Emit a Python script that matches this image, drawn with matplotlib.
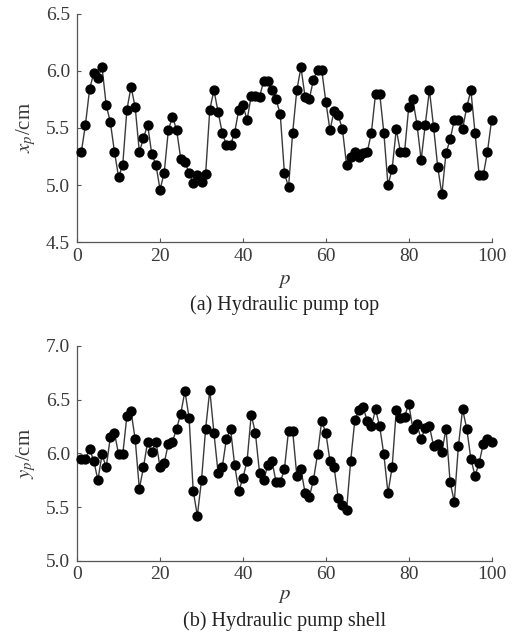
import numpy as np
import matplotlib
matplotlib.use('Agg')
import matplotlib.pyplot as plt
from matplotlib.ticker import FormatStrFormatter

plt.rcParams['font.family'] = 'Liberation Serif'
plt.rcParams['mathtext.fontset'] = 'stix'

p = np.arange(1, 101)

# (a) hydraulic pump top, x_p in cm
x_top = [5.29, 5.53, 5.84, 5.98, 5.94, 6.03, 5.70, 5.55, 5.29, 5.07,
         5.18, 5.66, 5.86, 5.68, 5.29, 5.41, 5.53, 5.27, 5.18, 4.96,
         5.11, 5.48, 5.60, 5.48, 5.23, 5.20, 5.11, 5.02, 5.09, 5.03,
         5.10, 5.66, 5.83, 5.64, 5.46, 5.35, 5.35, 5.46, 5.66, 5.70,
         5.57, 5.78, 5.78, 5.77, 5.91, 5.91, 5.83, 5.75, 5.62, 5.11,
         4.98, 5.46, 5.83, 6.03, 5.77, 5.75, 5.92, 6.01, 6.01, 5.73,
         5.48, 5.65, 5.61, 5.49, 5.18, 5.25, 5.29, 5.25, 5.28, 5.29,
         5.46, 5.80, 5.80, 5.46, 5.00, 5.14, 5.49, 5.29, 5.29, 5.68,
         5.75, 5.53, 5.22, 5.53, 5.83, 5.51, 5.16, 4.92, 5.28, 5.40,
         5.57, 5.57, 5.49, 5.68, 5.83, 5.46, 5.09, 5.09, 5.29, 5.57]

# (b) hydraulic pump shell, y_p in cm
y_shell = [5.95, 5.95, 6.04, 5.93, 5.75, 5.99, 5.87, 6.15, 6.19, 5.99,
           5.99, 6.35, 6.39, 6.13, 5.67, 5.87, 6.11, 6.01, 6.11, 5.87,
           5.91, 6.09, 6.11, 6.23, 6.37, 6.58, 6.33, 5.65, 5.42, 5.75,
           6.23, 6.59, 6.19, 5.82, 5.87, 6.13, 6.23, 5.89, 5.65, 5.77,
           5.93, 6.36, 6.19, 5.82, 5.75, 5.89, 5.93, 5.73, 5.73, 5.85,
           6.21, 6.21, 5.79, 5.85, 5.63, 5.59, 5.75, 5.99, 6.30, 6.19,
           5.93, 5.87, 5.58, 5.52, 5.47, 5.93, 6.31, 6.40, 6.43, 6.30,
           6.25, 6.41, 6.25, 5.99, 5.63, 5.87, 6.40, 6.33, 6.34, 6.46,
           6.23, 6.27, 6.13, 6.24, 6.25, 6.07, 6.09, 6.01, 6.23, 5.73,
           5.55, 6.07, 6.41, 6.23, 5.95, 5.79, 5.91, 6.09, 6.13, 6.11]

fig = plt.figure(figsize=(5.18, 6.43), dpi=100)
ax1 = fig.add_axes([0.149, 0.623, 0.800, 0.356])
ax2 = fig.add_axes([0.149, 0.128, 0.800, 0.334])


def style(ax, data, ylo, yhi, ylab, xpad):
    ax.plot(p, data, '-', color='#3a3a3a', lw=1.0, marker='o', ms=6.4,
            mfc='black', mec='black', clip_on=False, zorder=3)
    ax.set_xlim(0, 100)
    ax.set_ylim(ylo, yhi)
    ax.set_xticks([0, 20, 40, 60, 80, 100])
    ax.set_yticks(np.arange(ylo, yhi + 0.01, 0.5))
    ax.yaxis.set_major_formatter(FormatStrFormatter('%.1f'))
    ax.spines['top'].set_visible(False)
    ax.spines['right'].set_visible(False)
    for s in ['left', 'bottom']:
        ax.spines[s].set_color('#555555')
        ax.spines[s].set_linewidth(0.9)
    ax.tick_params(direction='in', length=3, width=0.8, colors='#555555',
                   labelcolor='#3a3a3a', labelsize=14)
    ax.tick_params(axis='y', pad=5)
    ax.tick_params(axis='x', pad=4)
    ax.set_ylabel(ylab, fontsize=15, color='#3a3a3a', labelpad=6)
    ax.set_xlabel(r'$p$', fontsize=15, color='#3a3a3a', labelpad=xpad)


style(ax1, x_top, 4.5, 6.5, r'$x_p$/cm', 4)
style(ax2, y_shell, 5.0, 7.0, r'$y_p$/cm', 2)

fig.text(0.549, 1 - 305 / 643, '(a) Hydraulic pump top', ha='center',
         va='center', fontsize=14.5, color='#222222')
fig.text(0.549, 1 - 621 / 643, '(b) Hydraulic pump shell', ha='center',
         va='center', fontsize=14.5, color='#222222')

fig.savefig('out.png', dpi=100)
